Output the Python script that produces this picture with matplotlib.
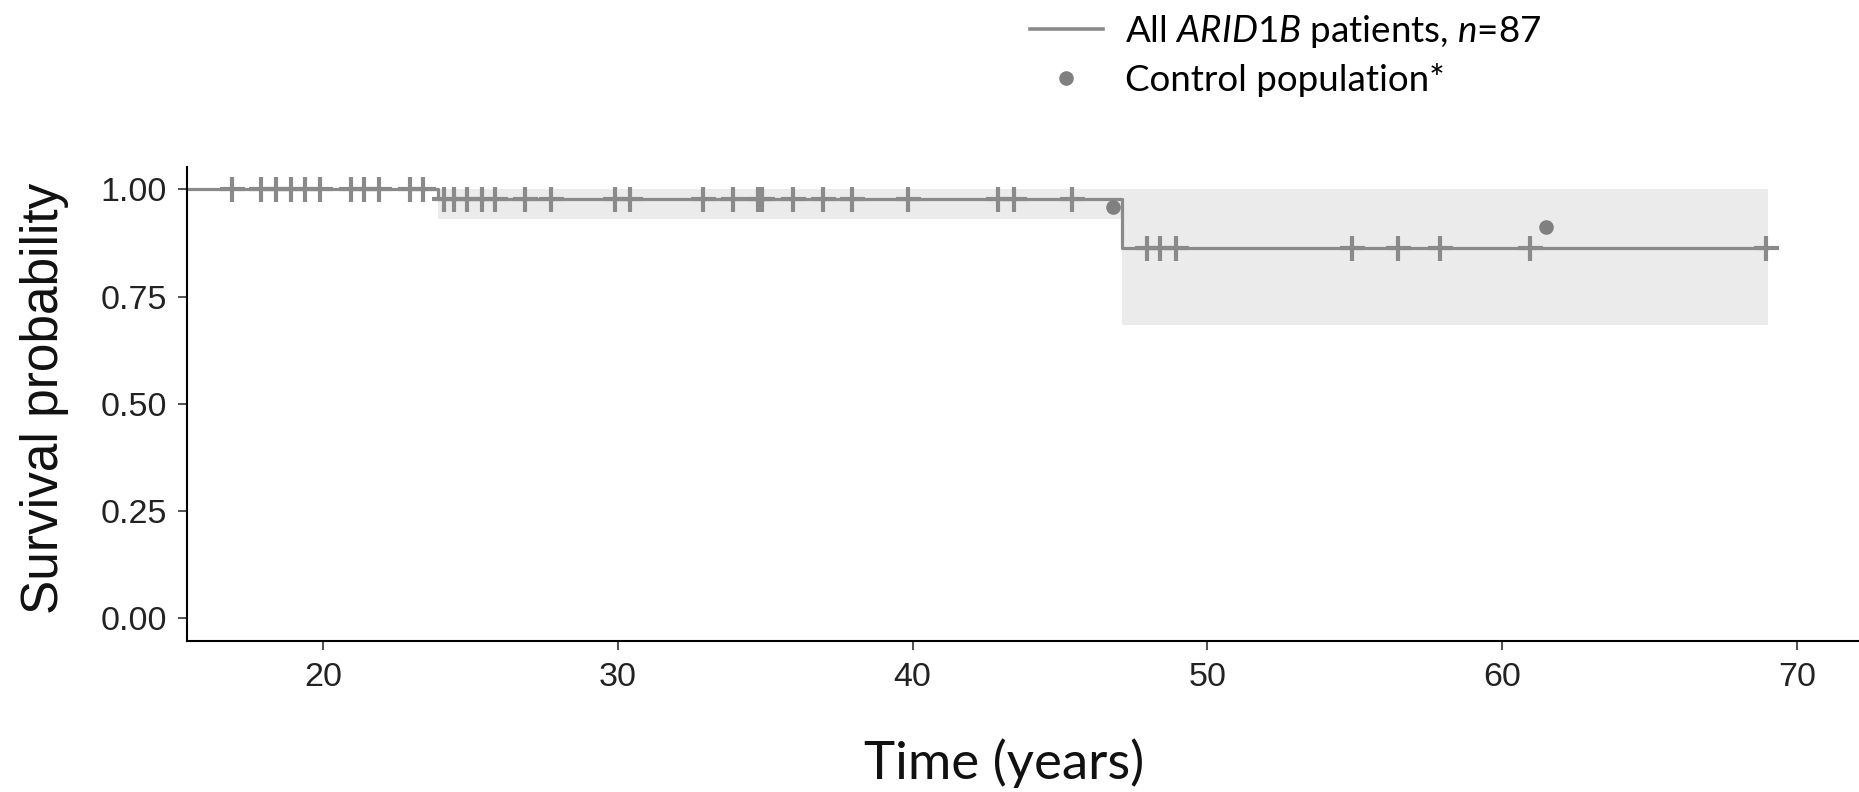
import numpy as np
import matplotlib
matplotlib.use("Agg")
import matplotlib.pyplot as plt
from matplotlib.lines import Line2D

plt.rcParams['mathtext.fontset'] = 'custom'
plt.rcParams['mathtext.rm'] = 'Lato'
plt.rcParams['mathtext.it'] = 'Lato:italic'

# Kaplan-Meier step curve (post steps) and its confidence band
step_times = [15.4, 23.9, 47.1, 69.0]
step_surv = [1.0, 0.977, 0.864, 0.864]
band_lower = [1.0, 0.930, 0.684, 0.684]
band_upper = [1.0, 1.0, 1.0, 1.0]

# censored patients (years)
censor_times = [16.9, 17.9, 18.4, 18.9, 19.4, 19.9, 20.95, 21.4, 21.9, 22.95, 23.4,
                24.1, 24.45, 24.9, 25.4, 25.85, 26.85, 27.75, 29.9, 30.4, 32.9,
                33.9, 34.75, 34.9, 35.95, 36.95, 37.95, 39.85, 42.9, 43.45, 45.4,
                47.95, 48.4, 48.95, 54.9, 56.45, 57.9, 60.95, 68.95]

# control population
control_age = [46.8, 61.5]
control_surv = [0.960, 0.913]

x_ticks = [20, 30, 40, 50, 60, 70]
y_ticks = [0.0, 0.25, 0.5, 0.75, 1.0]
y_ticklabels = ["0.00", "0.25", "0.50", "0.75", "1.00"]

line_col = "#8a8a8a"
band_col = "#ebebeb"
dot_col = "#808080"

fig = plt.figure(figsize=(18.59, 7.92), dpi=100)
ax = fig.add_axes([0.1008, 0.1907, 0.8992, 0.5988])

ax.fill_between(step_times, band_lower, band_upper, step="post", color=band_col, lw=0, zorder=1)
ax.step(step_times, step_surv, where="post", color=line_col, lw=2.3, zorder=2)

idx = np.searchsorted(step_times, censor_times, side="right") - 1
censor_surv = np.array(step_surv)[idx]
ax.plot(censor_times, censor_surv, ls="none", marker="+", ms=18, mew=3.0, color=line_col, zorder=3)

ax.plot(control_age, control_surv, ls="none", marker="o", ms=9.5, color=dot_col, zorder=4)

ax.set_xlim(15.4, 72.1)
ax.set_ylim(-0.053, 1.053)
ax.set_xticks(x_ticks)
ax.set_yticks(y_ticks)
ax.set_yticklabels(y_ticklabels)
for s in ["top", "right"]:
    ax.spines[s].set_visible(False)
for s in ["left", "bottom"]:
    ax.spines[s].set_linewidth(1.5)
ax.tick_params(axis="both", length=6.5, width=1.2, color="#333333",
               labelsize=24.5, labelcolor="#222222")
ax.tick_params(axis="y", pad=8)
ax.tick_params(axis="x", pad=9)
for lab in ax.get_xticklabels() + ax.get_yticklabels():
    lab.set_family("Liberation Sans")

fig.text(0.0237, 0.497, "Survival probability", rotation=90, ha="center", va="center",
         fontsize=37, family="Liberation Sans", color="#111111")
fig.text(0.540, 0.037, "Time (years)", ha="center", va="center",
         fontsize=38, family="Lato", color="#111111")

handles = [Line2D([], [], color=line_col, lw=2.6),
           Line2D([], [], ls="none", marker="o", ms=9.5, color=dot_col)]
labels = ["All $\\mathit{ARID1B}$ patients, $\\mathit{n}$=87", "Control population*"]
fig.legend(handles, labels, loc="upper left", bbox_to_anchor=(0.536, 1.025),
           frameon=False, prop={"family": "Lato", "size": 26.5},
           handlelength=2.0, handletextpad=0.6, labelspacing=0.35)

fig.savefig("out.png", dpi=100)
